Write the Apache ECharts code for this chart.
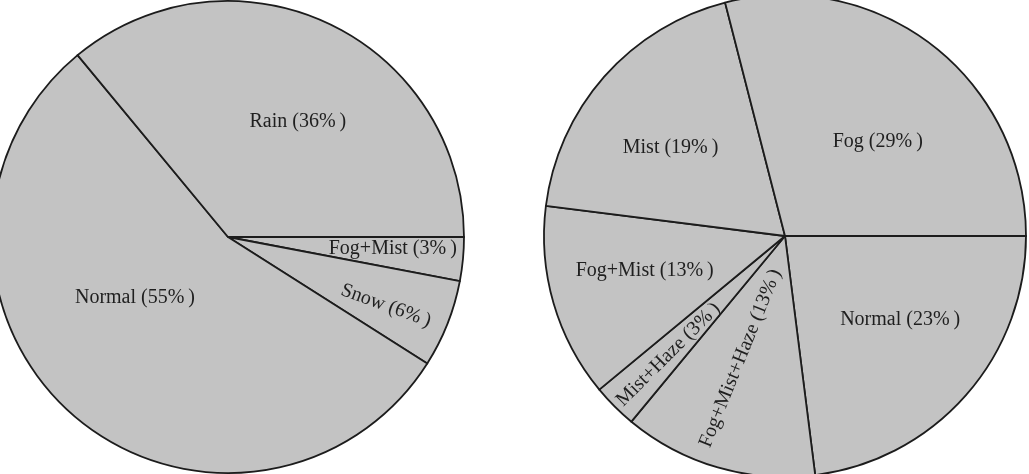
<!DOCTYPE html>
<html>
<head>
<meta charset="utf-8">
<script src="https://cdn.jsdelivr.net/npm/echarts@6/dist/echarts.min.js"></script>
<style>
html,body{margin:0;padding:0;background:#fff;}
#chart{width:1029px;height:474px;}
</style>
</head>
<body>
<div id="chart"></div>
<script>
// Left pie (clockwise from 3 o'clock)
const leftCategories = ['Fog+Mist', 'Snow', 'Normal', 'Rain'];
const leftValues = [3, 6, 55, 36];
// Right pie (clockwise from 3 o'clock)
const rightCategories = ['Normal', 'Fog+Mist+Haze', 'Mist+Haze', 'Fog+Mist', 'Mist', 'Fog'];
const rightValues = [23, 13, 3, 13, 19, 29];

// label placement: [angle(deg, math), radius fraction, rotation(deg)]
const leftLabelPos = [[-4.2, 0.70, 0], [-23.5, 0.73, -20], [213, 0.47, 0], [58.7, 0.57, 0]];
const rightLabelPos = [[-35.9, 0.59, 0], [-110, 0.54, 68], [-134.5, 0.69, 45], [194, 0.60, 0], [142.3, 0.60, 0], [45.6, 0.55, 0]];

const pies = [
  {center: [228, 237], r: 236, cats: leftCategories, vals: leftValues, lp: leftLabelPos},
  {center: [785, 236], r: 241, cats: rightCategories, vals: rightValues, lp: rightLabelPos}
];

const chart = echarts.init(document.getElementById('chart'), null, {renderer: 'canvas'});
chart.setOption({
  backgroundColor: '#ffffff',
  animation: false,
  series: pies.map(function (p) {
    return {
      type: 'pie',
      center: p.center,
      radius: [0, p.r],
      startAngle: 0,
      clockwise: true,
      avoidLabelOverlap: false,
      silent: true,
      itemStyle: {color: '#c3c3c3', borderColor: '#1c1c1c', borderWidth: 1.8},
      label: {
        show: true,
        position: 'inside',
        formatter: '{b} ({c}%\u2009)',
        color: '#1f1f1f',
        fontFamily: 'Liberation Serif',
        fontSize: 20
      },
      labelLine: {show: false},
      labelLayout: function (params) {
        const s = p.lp[params.dataIndex];
        const a = s[0] * Math.PI / 180;
        return {
          x: p.center[0] + p.r * s[1] * Math.cos(a),
          y: p.center[1] - p.r * s[1] * Math.sin(a),
          rotate: s[2],
          align: 'center',
          verticalAlign: 'middle'
        };
      },
      data: p.cats.map(function (c, i) { return {name: c, value: p.vals[i]}; })
    };
  })
});
</script>
</body>
</html>
